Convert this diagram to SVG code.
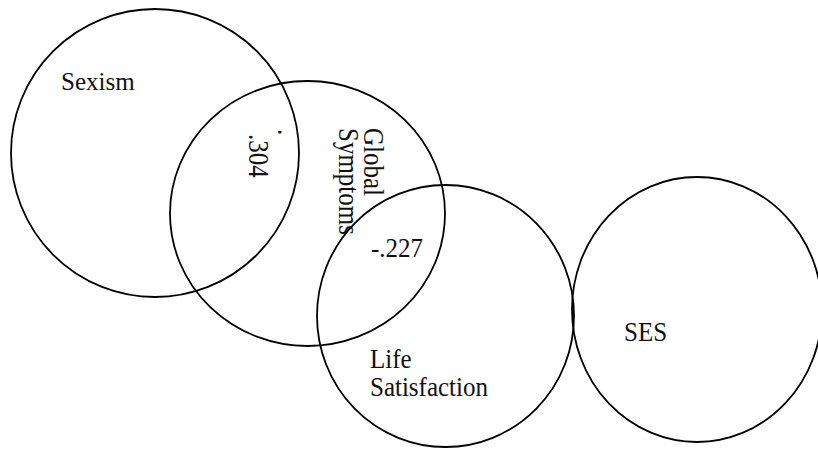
<svg xmlns="http://www.w3.org/2000/svg" width="818" height="449" viewBox="0 0 818 449">
<style>
.c{fill:none;stroke:#000;stroke-width:1.8}
.t{font-family:"Liberation Serif","Times New Roman",serif;font-size:25px;fill:#111}
</style>
<rect width="818" height="449" fill="#fff"/>
<g id="sexism">
<circle class="c" cx="155" cy="153" r="144"/>
<text class="t" x="61" y="90" font-size="26">Sexism</text>
</g>
<g id="global-symptoms">
<ellipse class="c" cx="307.5" cy="213.5" rx="137.5" ry="132.5"/>
<text class="t" font-size="24" transform="translate(364,128) rotate(90) scale(1,1.15)">Global</text>
<text class="t" font-size="24" transform="translate(339,128) rotate(90) scale(1,1.15)">Symptoms</text>
</g>
<g id="life-satisfaction">
<ellipse class="c" cx="445.5" cy="316" rx="128.5" ry="131"/>
<text class="t" font-size="24" transform="translate(370,368) scale(1,1.1)">Life</text>
<text class="t" font-size="24" transform="translate(370,396) scale(1,1.1)">Satisfaction</text>
</g>
<g id="ses">
<ellipse class="c" cx="697" cy="309.5" rx="125" ry="132.5"/>
<text class="t" transform="translate(624,341) scale(1,1.1)">SES</text>
</g>
<g id="overlap-labels">
<text class="t" font-size="24" transform="translate(278,129) rotate(90) scale(1,1.15)">.</text>
<text class="t" font-size="24" transform="translate(249,134) rotate(90) scale(1,1.15)">.304</text>
<text class="t" transform="translate(371,257) scale(1,1.12)">-.227</text>
</g>
</svg>
